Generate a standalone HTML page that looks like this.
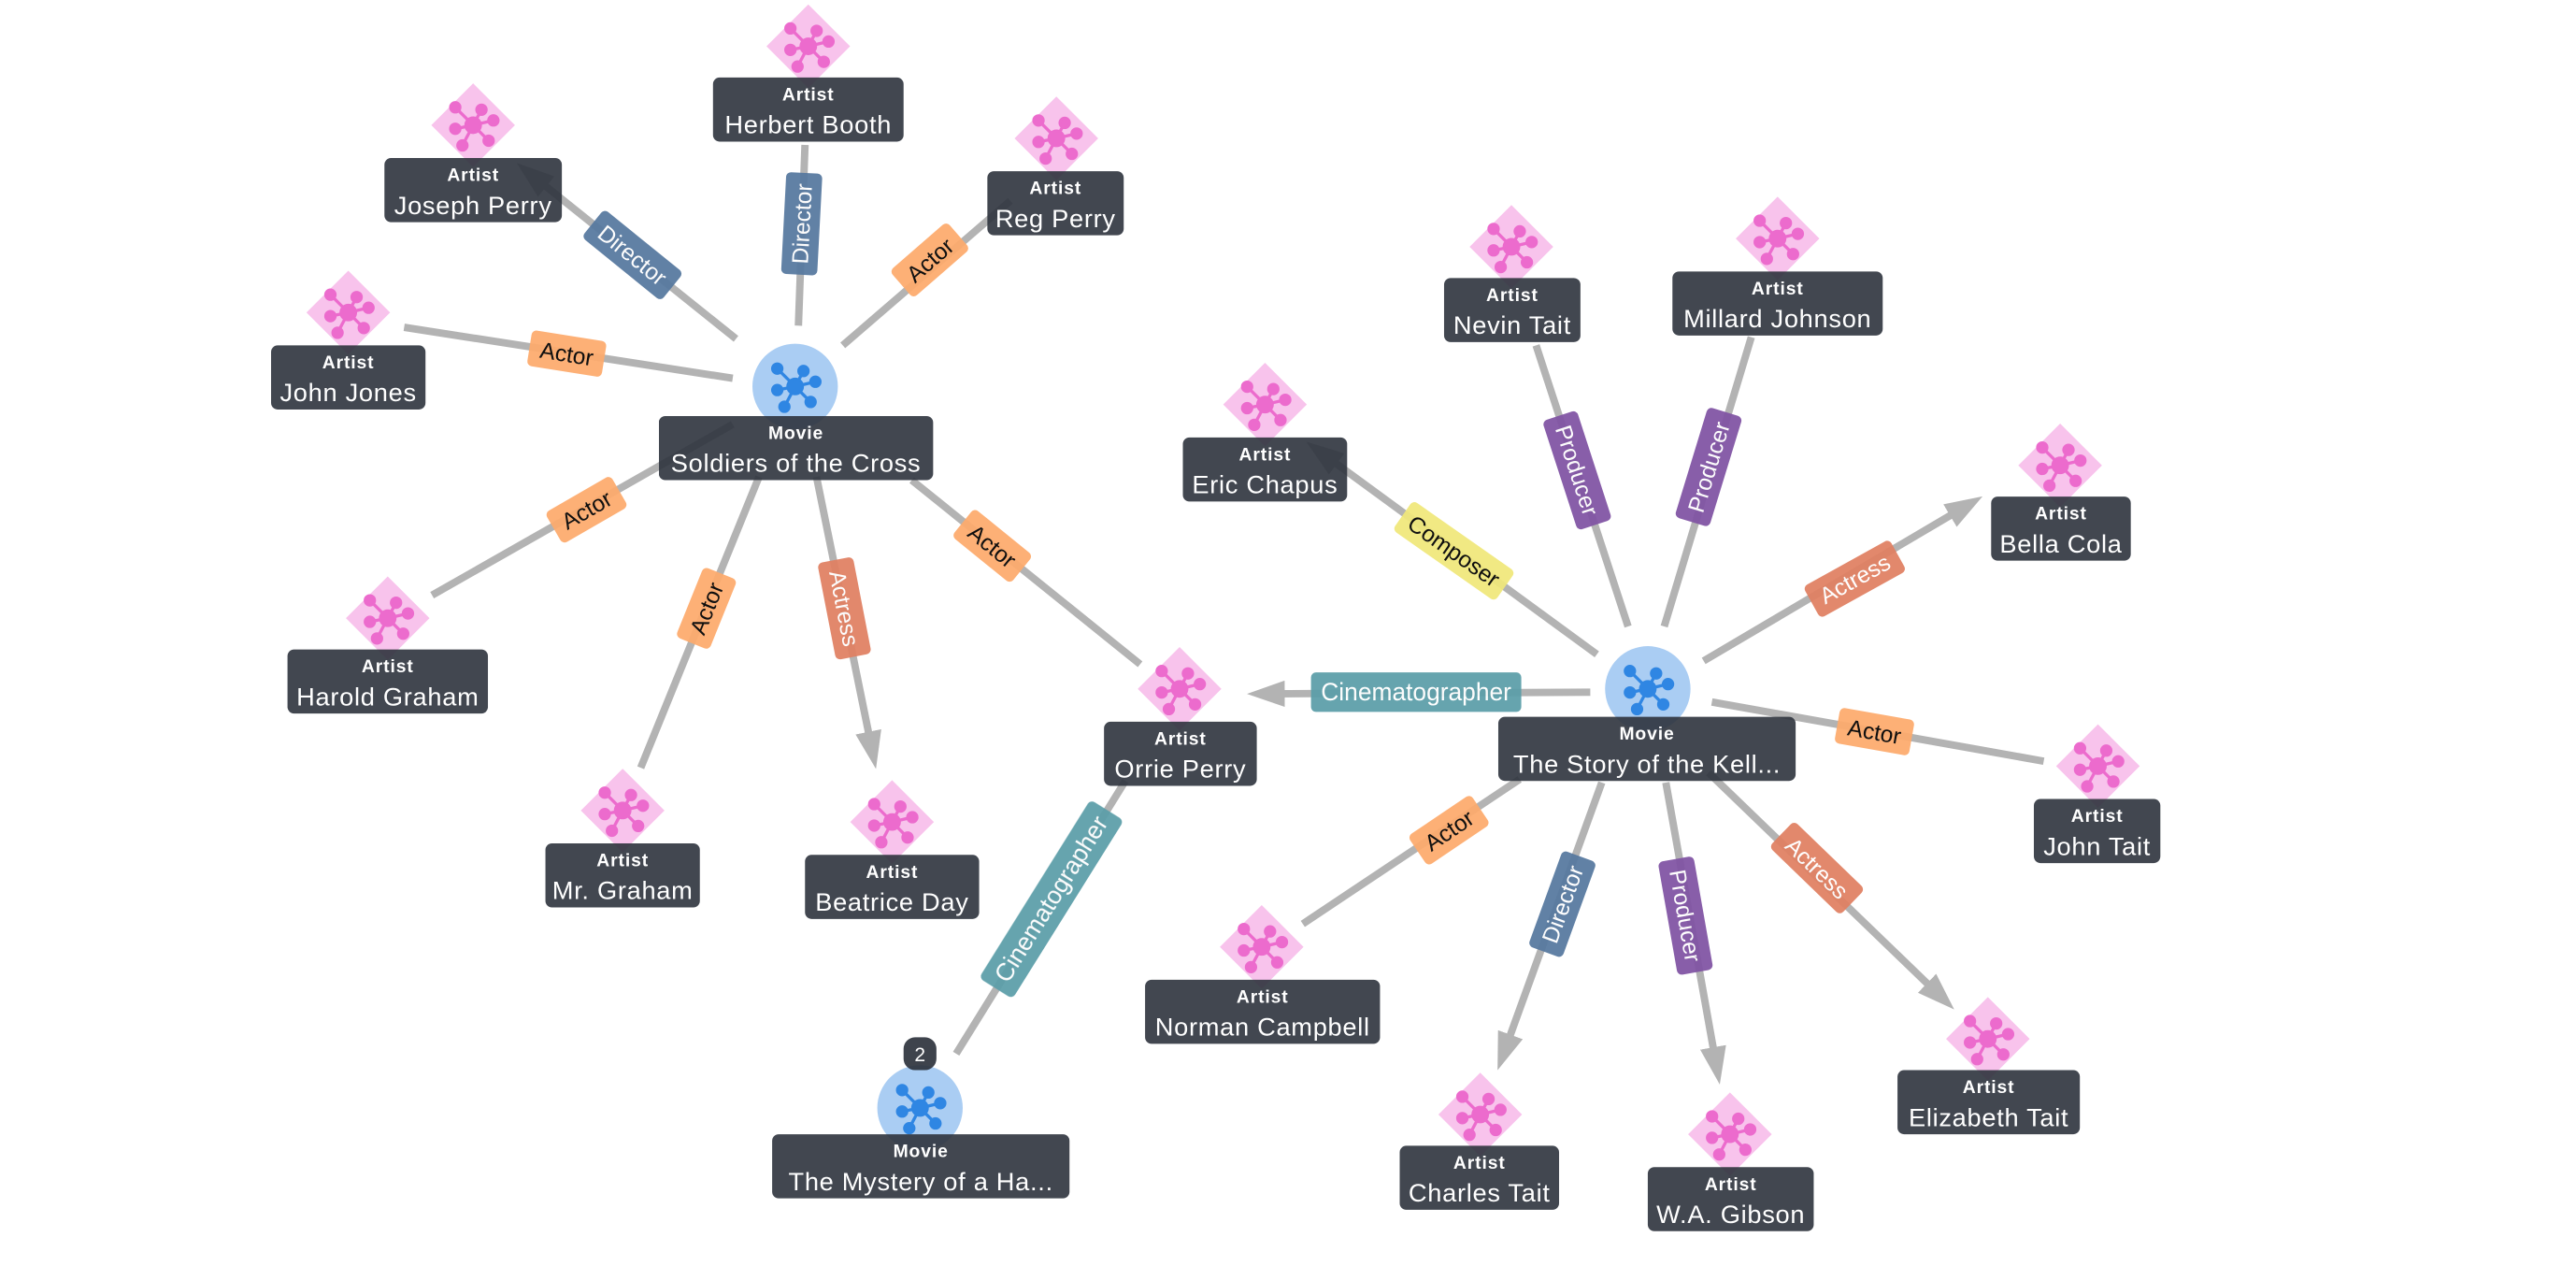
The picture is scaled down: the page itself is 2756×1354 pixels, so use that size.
<!DOCTYPE html>
<html><head><meta charset="utf-8"><style>
html,body{margin:0;padding:0;background:#fff;}
svg{display:block;}
text{font-family:"Liberation Sans","DejaVu Sans",sans-serif;}
.t1{font-size:11px;font-weight:bold;fill:#fff;text-anchor:middle;letter-spacing:0.5px;}
.t2{font-size:15.5px;fill:#fff;text-anchor:middle;letter-spacing:0.4px;}
.el{font-size:14px;text-anchor:middle;}
</style></head><body>
<svg width="2756" height="1354" viewBox="0 0 1568 770" xmlns="http://www.w3.org/2000/svg">
<defs>
<marker id="ar" markerUnits="userSpaceOnUse" markerWidth="24" markerHeight="18" refX="7" refY="8" orient="auto">
<path d="M0,0 L23,8 L0,16 z" fill="#b3b3b3"/>
</marker>
<g id="ic0">
<g stroke-width="1.3">
<line x1="0" y1="0" x2="-7.5" y2="-7.5"/><line x1="0" y1="0" x2="3.5" y2="-6.5"/><line x1="0" y1="0" x2="8.5" y2="-2"/>
<line x1="0" y1="0" x2="-7.5" y2="1.5"/><line x1="0" y1="0" x2="-4.5" y2="8.5"/><line x1="0" y1="0" x2="6.5" y2="6.5"/>
</g>
<circle r="3.2" cx="0" cy="0"/><circle r="2.1" cx="-7.5" cy="-7.5"/><circle r="2.1" cx="3.5" cy="-6.5"/><circle r="2.1" cx="8.5" cy="-2"/>
<circle r="2.1" cx="-7.5" cy="1.5"/><circle r="2.1" cx="-4.5" cy="8.5"/><circle r="2.1" cx="6.5" cy="6.5"/>
</g>
<g id="ic"><use href="#ic0" transform="scale(1.45)"/></g>
</defs>

<g stroke="#b3b3b3" stroke-width="4.5" fill="none">
<line x1="448" y1="206" x2="327" y2="109" marker-end="url(#ar)"/>
<line x1="486" y1="198" x2="490" y2="88"/>
<line x1="513" y1="210" x2="615" y2="122"/>
<line x1="446" y1="230" x2="246" y2="199"/>
<line x1="446" y1="258" x2="263" y2="362"/>
<line x1="462" y1="290" x2="390" y2="467"/>
<line x1="497" y1="290" x2="530" y2="452" marker-end="url(#ar)"/>
<line x1="555" y1="292" x2="694" y2="404"/>
<line x1="972" y1="398" x2="808" y2="278" marker-end="url(#ar)"/>
<line x1="991" y1="381" x2="935" y2="210"/>
<line x1="1013" y1="381" x2="1066" y2="205"/>
<line x1="1037" y1="402" x2="1193" y2="310" marker-end="url(#ar)"/>
<line x1="1042" y1="427" x2="1244" y2="463"/>
<line x1="968" y1="421" x2="775" y2="422" marker-end="url(#ar)"/>
<line x1="925" y1="474" x2="793" y2="562"/>
<line x1="975" y1="476" x2="917" y2="636" marker-end="url(#ar)"/>
<line x1="1014" y1="476" x2="1044" y2="644" marker-end="url(#ar)"/>
<line x1="1040" y1="470" x2="1178" y2="603" marker-end="url(#ar)"/>
<line x1="582" y1="641" x2="685" y2="475"/>
</g>

<g opacity="0.93">
<g transform="translate(385,155) rotate(39)"><rect x="-31" y="-11" width="62" height="22" rx="3" fill="#56789f"/><text class="el" y="5" fill="#fff">Director</text></g>
<g transform="translate(488,136) rotate(-87)"><rect x="-31" y="-11" width="62" height="22" rx="3" fill="#56789f"/><text class="el" y="5" fill="#fff">Director</text></g>
<g transform="translate(566,158) rotate(-41)"><rect x="-23" y="-11" width="46" height="22" rx="3" fill="#fdaa6c"/><text class="el" y="5" fill="#000">Actor</text></g>
<g transform="translate(345,215) rotate(9)"><rect x="-23" y="-11" width="46" height="22" rx="3" fill="#fdaa6c"/><text class="el" y="5" fill="#000">Actor</text></g>
<g transform="translate(357,310) rotate(-30)"><rect x="-23" y="-11" width="46" height="22" rx="3" fill="#fdaa6c"/><text class="el" y="5" fill="#000">Actor</text></g>
<g transform="translate(430,370) rotate(-68)"><rect x="-23" y="-11" width="46" height="22" rx="3" fill="#fdaa6c"/><text class="el" y="5" fill="#000">Actor</text></g>
<g transform="translate(514,370) rotate(79)"><rect x="-30" y="-11" width="60" height="22" rx="3" fill="#e07f61"/><text class="el" y="5" fill="#fff">Actress</text></g>
<g transform="translate(604,332) rotate(39)"><rect x="-23" y="-11" width="46" height="22" rx="3" fill="#fdaa6c"/><text class="el" y="5" fill="#000">Actor</text></g>
<g transform="translate(885,335) rotate(35)"><rect x="-38" y="-11" width="76" height="22" rx="3" fill="#f0e87a"/><text class="el" y="5" fill="#000">Composer</text></g>
<g transform="translate(960,286) rotate(72)"><rect x="-35" y="-11" width="70" height="22" rx="3" fill="#7f52a3"/><text class="el" y="5" fill="#fff">Producer</text></g>
<g transform="translate(1040,284) rotate(-73)"><rect x="-35" y="-11" width="70" height="22" rx="3" fill="#7f52a3"/><text class="el" y="5" fill="#fff">Producer</text></g>
<g transform="translate(1129,352) rotate(-29)"><rect x="-30" y="-11" width="60" height="22" rx="3" fill="#e07f61"/><text class="el" y="5" fill="#fff">Actress</text></g>
<g transform="translate(1141,445) rotate(10)"><rect x="-23" y="-11" width="46" height="22" rx="3" fill="#fdaa6c"/><text class="el" y="5" fill="#000">Actor</text></g>
<g transform="translate(862,421)"><rect x="-64" y="-12" width="128" height="24" rx="3" fill="#5b9ea8"/><text class="el" y="5" fill="#fff" style="font-size:15px">Cinematographer</text></g>
<g transform="translate(882,505) rotate(-34)"><rect x="-23" y="-11" width="46" height="22" rx="3" fill="#fdaa6c"/><text class="el" y="5" fill="#000">Actor</text></g>
<g transform="translate(951,550) rotate(-70)"><rect x="-31" y="-11" width="62" height="22" rx="3" fill="#56789f"/><text class="el" y="5" fill="#fff">Director</text></g>
<g transform="translate(1026,557) rotate(80)"><rect x="-35" y="-11" width="70" height="22" rx="3" fill="#7f52a3"/><text class="el" y="5" fill="#fff">Producer</text></g>
<g transform="translate(1106,528) rotate(44)"><rect x="-30" y="-11" width="60" height="22" rx="3" fill="#e07f61"/><text class="el" y="5" fill="#fff">Actress</text></g>
<g transform="translate(640,547) rotate(-58)"><rect x="-64" y="-12" width="128" height="24" rx="3" fill="#5b9ea8"/><text class="el" y="5" fill="#fff" style="font-size:15px">Cinematographer</text></g>
</g>

<g>
<circle cx="484" cy="235" r="26" fill="#aacdf3"/><use href="#ic" x="484" y="235" fill="#2f86e3" stroke="#2f86e3"/>
<rect x="401" y="253" width="167" height="39" rx="4" fill="#2e333d" opacity="0.9"/>
<text class="t1" x="484.5" y="267">Movie</text><text class="t2" x="484.5" y="287">Soldiers of the Cross</text>

<circle cx="1003" cy="419" r="26" fill="#aacdf3"/><use href="#ic" x="1003" y="419" fill="#2f86e3" stroke="#2f86e3"/>
<rect x="912" y="436" width="181" height="39" rx="4" fill="#2e333d" opacity="0.9"/>
<text class="t1" x="1002.5" y="450">Movie</text><text class="t2" x="1002.5" y="470">The Story of the Kell...</text>

<circle cx="560" cy="674" r="26" fill="#aacdf3"/><use href="#ic" x="560" y="674" fill="#2f86e3" stroke="#2f86e3"/>
<rect x="470" y="690" width="181" height="39" rx="4" fill="#2e333d" opacity="0.9"/>
<text class="t1" x="560.5" y="704">Movie</text><text class="t2" x="560.5" y="724">The Mystery of a Ha...</text>
<rect x="550" y="631" width="20" height="20" rx="7" fill="#2e333d" opacity="0.92"/>
<text x="560" y="645.5" fill="#fff" font-size="12" text-anchor="middle">2</text>
</g>

<g>
<g transform="translate(288,76)"><rect x="-18" y="-18" width="36" height="36" fill="#f8c3ec" transform="rotate(45)"/><use href="#ic" fill="#ec6bcd" stroke="#ec6bcd"/></g>
<rect x="234" y="96" width="108" height="39" rx="4" fill="#2e333d" opacity="0.9"/><text class="t1" x="288" y="110">Artist</text><text class="t2" x="288" y="130">Joseph Perry</text>

<g transform="translate(492,28)"><rect x="-18" y="-18" width="36" height="36" fill="#f8c3ec" transform="rotate(45)"/><use href="#ic" fill="#ec6bcd" stroke="#ec6bcd"/></g>
<rect x="434" y="47" width="116" height="39" rx="4" fill="#2e333d" opacity="0.9"/><text class="t1" x="492" y="61">Artist</text><text class="t2" x="492" y="81">Herbert Booth</text>

<g transform="translate(643,84)"><rect x="-18" y="-18" width="36" height="36" fill="#f8c3ec" transform="rotate(45)"/><use href="#ic" fill="#ec6bcd" stroke="#ec6bcd"/></g>
<rect x="601" y="104" width="83" height="39" rx="4" fill="#2e333d" opacity="0.9"/><text class="t1" x="642.5" y="118">Artist</text><text class="t2" x="642.5" y="138">Reg Perry</text>

<g transform="translate(212,190)"><rect x="-18" y="-18" width="36" height="36" fill="#f8c3ec" transform="rotate(45)"/><use href="#ic" fill="#ec6bcd" stroke="#ec6bcd"/></g>
<rect x="165" y="210" width="94" height="39" rx="4" fill="#2e333d" opacity="0.9"/><text class="t1" x="212" y="224">Artist</text><text class="t2" x="212" y="244">John Jones</text>

<g transform="translate(236,376)"><rect x="-18" y="-18" width="36" height="36" fill="#f8c3ec" transform="rotate(45)"/><use href="#ic" fill="#ec6bcd" stroke="#ec6bcd"/></g>
<rect x="175" y="395" width="122" height="39" rx="4" fill="#2e333d" opacity="0.9"/><text class="t1" x="236" y="409">Artist</text><text class="t2" x="236" y="429">Harold Graham</text>

<g transform="translate(379,493)"><rect x="-18" y="-18" width="36" height="36" fill="#f8c3ec" transform="rotate(45)"/><use href="#ic" fill="#ec6bcd" stroke="#ec6bcd"/></g>
<rect x="332" y="513" width="94" height="39" rx="4" fill="#2e333d" opacity="0.9"/><text class="t1" x="379" y="527">Artist</text><text class="t2" x="379" y="547">Mr. Graham</text>

<g transform="translate(543,500)"><rect x="-18" y="-18" width="36" height="36" fill="#f8c3ec" transform="rotate(45)"/><use href="#ic" fill="#ec6bcd" stroke="#ec6bcd"/></g>
<rect x="490" y="520" width="106" height="39" rx="4" fill="#2e333d" opacity="0.9"/><text class="t1" x="543" y="534">Artist</text><text class="t2" x="543" y="554">Beatrice Day</text>

<g transform="translate(718,419)"><rect x="-18" y="-18" width="36" height="36" fill="#f8c3ec" transform="rotate(45)"/><use href="#ic" fill="#ec6bcd" stroke="#ec6bcd"/></g>
<rect x="672" y="439" width="93" height="39" rx="4" fill="#2e333d" opacity="0.9"/><text class="t1" x="718.5" y="453">Artist</text><text class="t2" x="718.5" y="473">Orrie Perry</text>

<g transform="translate(770,246)"><rect x="-18" y="-18" width="36" height="36" fill="#f8c3ec" transform="rotate(45)"/><use href="#ic" fill="#ec6bcd" stroke="#ec6bcd"/></g>
<rect x="720" y="266" width="100" height="39" rx="4" fill="#2e333d" opacity="0.9"/><text class="t1" x="770" y="280">Artist</text><text class="t2" x="770" y="300">Eric Chapus</text>

<g transform="translate(920,150)"><rect x="-18" y="-18" width="36" height="36" fill="#f8c3ec" transform="rotate(45)"/><use href="#ic" fill="#ec6bcd" stroke="#ec6bcd"/></g>
<rect x="879" y="169" width="83" height="39" rx="4" fill="#2e333d" opacity="0.9"/><text class="t1" x="920.5" y="183">Artist</text><text class="t2" x="920.5" y="203">Nevin Tait</text>

<g transform="translate(1082,145)"><rect x="-18" y="-18" width="36" height="36" fill="#f8c3ec" transform="rotate(45)"/><use href="#ic" fill="#ec6bcd" stroke="#ec6bcd"/></g>
<rect x="1018" y="165" width="128" height="39" rx="4" fill="#2e333d" opacity="0.9"/><text class="t1" x="1082" y="179">Artist</text><text class="t2" x="1082" y="199">Millard Johnson</text>

<g transform="translate(1254,283)"><rect x="-18" y="-18" width="36" height="36" fill="#f8c3ec" transform="rotate(45)"/><use href="#ic" fill="#ec6bcd" stroke="#ec6bcd"/></g>
<rect x="1212" y="302" width="85" height="39" rx="4" fill="#2e333d" opacity="0.9"/><text class="t1" x="1254.5" y="316">Artist</text><text class="t2" x="1254.5" y="336">Bella Cola</text>

<g transform="translate(1277,466)"><rect x="-18" y="-18" width="36" height="36" fill="#f8c3ec" transform="rotate(45)"/><use href="#ic" fill="#ec6bcd" stroke="#ec6bcd"/></g>
<rect x="1238" y="486" width="77" height="39" rx="4" fill="#2e333d" opacity="0.9"/><text class="t1" x="1276.5" y="500">Artist</text><text class="t2" x="1276.5" y="520">John Tait</text>

<g transform="translate(768,576)"><rect x="-18" y="-18" width="36" height="36" fill="#f8c3ec" transform="rotate(45)"/><use href="#ic" fill="#ec6bcd" stroke="#ec6bcd"/></g>
<rect x="697" y="596" width="143" height="39" rx="4" fill="#2e333d" opacity="0.9"/><text class="t1" x="768.5" y="610">Artist</text><text class="t2" x="768.5" y="630">Norman Campbell</text>

<g transform="translate(901,678)"><rect x="-18" y="-18" width="36" height="36" fill="#f8c3ec" transform="rotate(45)"/><use href="#ic" fill="#ec6bcd" stroke="#ec6bcd"/></g>
<rect x="852" y="697" width="97" height="39" rx="4" fill="#2e333d" opacity="0.9"/><text class="t1" x="900.5" y="711">Artist</text><text class="t2" x="900.5" y="731">Charles Tait</text>

<g transform="translate(1053,690)"><rect x="-18" y="-18" width="36" height="36" fill="#f8c3ec" transform="rotate(45)"/><use href="#ic" fill="#ec6bcd" stroke="#ec6bcd"/></g>
<rect x="1003" y="710" width="101" height="39" rx="4" fill="#2e333d" opacity="0.9"/><text class="t1" x="1053.5" y="724">Artist</text><text class="t2" x="1053.5" y="744">W.A. Gibson</text>

<g transform="translate(1210,632)"><rect x="-18" y="-18" width="36" height="36" fill="#f8c3ec" transform="rotate(45)"/><use href="#ic" fill="#ec6bcd" stroke="#ec6bcd"/></g>
<rect x="1155" y="651" width="111" height="39" rx="4" fill="#2e333d" opacity="0.9"/><text class="t1" x="1210.5" y="665">Artist</text><text class="t2" x="1210.5" y="685">Elizabeth Tait</text>
</g>
</svg>
</body></html>
